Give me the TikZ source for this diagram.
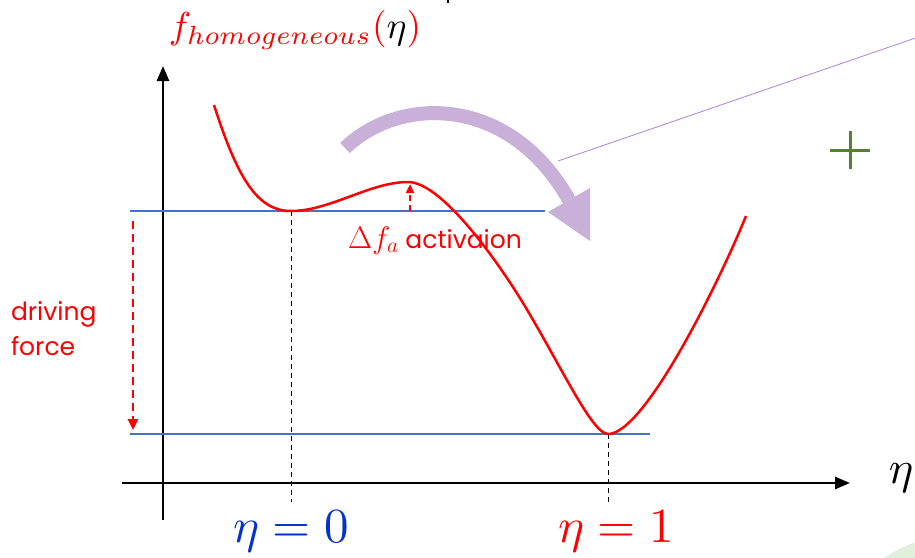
\documentclass[tikz,border=0pt]{standalone}
\usepackage{fontspec}
\newfontfamily\gotico{Poppins}
\usepackage{tikz}
\usetikzlibrary{
    arrows.meta,
    positioning,
    calc
}
\usepackage{xcolor}
\definecolor{azul}{RGB}{68,114,196}
\definecolor{azulforte}{RGB}{5,50,205}
\definecolor{lilas}{RGB}{200,176,217}
\definecolor{lilasfino}{RGB}{180,140,220}
\definecolor{verde}{RGB}{84,130,53}
\definecolor{verdeclaro}{RGB}{226,239,218}

\begin{document}
\begin{tikzpicture}[
    x=1pt, y=-1pt,
    every node/.style={inner sep=0pt, outer sep=0pt},
    eixo/.style={
        line width=2.6pt,
        -{Triangle[length=15pt,width=12pt]}
    },
    nivel/.style={
        line width=1.2pt,
        azul
    },
    guia/.style={
        dash pattern=on 5pt off 4pt,
        line width=0.9pt
    },
    curva/.style={
        line width=2.5pt,
        red
    },
    seta/.style={
        red,
        line width=2.6pt,
        dash pattern=on 8pt off 5pt,
        -{Triangle[length=11pt,width=10pt]}
    },
    rotulo/.style={
        red,
        font=\gotico\fontsize{25}{35}\selectfont,
        align=left
    },
    formula/.style={
        scale=#1
    }
]
\useasboundingbox (0,0) rectangle (915,557);
\clip (0,0) rectangle (915,557);

% fundo
\fill[verdeclaro] (950,650) circle[radius=113];
\fill (446.5,0) rectangle (448.5,2.5);

% pontos
\coordinate (y0) at (163,520);
\coordinate (y1) at (163,66);
\coordinate (x0) at (122,483);
\coordinate (x1) at (850,483);
\coordinate (inicio) at (214,105);
\coordinate (min0) at (291,211);
\coordinate (topo) at (408,182);
\coordinate (inflexao) at (523,303);
\coordinate (min1) at (608,434);
\coordinate (fim) at (746,216);
\coordinate (n0a) at (130,211);
\coordinate (n0b) at (545,211);
\coordinate (n1a) at (130,434);
\coordinate (n1b) at (650,434);
\coordinate (g0) at (291,502);
\coordinate (g1) at (608,502);
\coordinate (fa) at (133,221);
\coordinate (fb) at (133,430);
\coordinate (aa) at (410,211);
\coordinate (ab) at (410,184);
\coordinate (cauda) at (345,148);
\coordinate (base) at (569,200);
\coordinate (canto1) at (548,212);
\coordinate (canto2) at (590,188);
\coordinate (ponta) at (590,241);
\coordinate (linha0) at (558,161);
\coordinate (linha1) at (930,33);
\coordinate (mais) at (850,150);

% eixos
\draw[eixo] (y0) -- (y1);
\draw[eixo] (x0) -- (x1);

% niveis e guias
\draw[nivel] (n0a) -- (n0b);
\draw[nivel] (n1a) -- (n1b);
\draw[guia] (min0) -- (g0);
\draw[guia] (min1) -- (g1);

% curva f(eta)
\draw[curva] (inicio) .. controls (238,180) and (258,211) .. (min0)
    .. controls (330,211) and (370,182) .. (topo)
    .. controls (440,182) and (493,254) .. (inflexao)
    .. controls (560,364) and (592,434) .. (min1)
    .. controls (645,434) and (720,280) .. (fim);

% setas vermelhas
\draw[seta] (fa) -- (fb);
\draw[seta, dash pattern=on 6pt off 4pt, -{Triangle[length=9pt,width=8pt]}]
    (aa) -- (ab);

% seta lilas
\draw[lilas, line width=14pt] (cauda) .. controls (400,95) and (510,95) .. (base);
\fill[lilas] (canto1) -- (canto2) -- (ponta) -- cycle;
\draw[lilasfino, line width=0.9pt] (linha0) -- (linha1);

% mais
\draw[verde, line width=3pt] ([xshift=-20pt]mais) -- ([xshift=20pt]mais)
    ([yshift=-19pt]mais) -- ([yshift=19pt]mais);

% textos
\node[formula=3.75] (titulo) at (295,30)
    {$\color{red}f_{homogeneous}(\color{black}\eta\color{red})$};
\node[formula=4.6] (eta) at (901,478) {$\eta$};
\node[formula=4.9, azulforte] (eta0) at (291,531) {$\eta=0$};
\node[formula=4.9, red] (eta1) at (616,531) {$\eta=1$};
\node[rotulo, anchor=base west] (ativ) at (348,248)
    {\scalebox{1.25}{$\Delta f_a$} activaion};
\node[rotulo, anchor=north west] (forca) at (11,301) {driving\\force};

\end{tikzpicture}
\end{document}
